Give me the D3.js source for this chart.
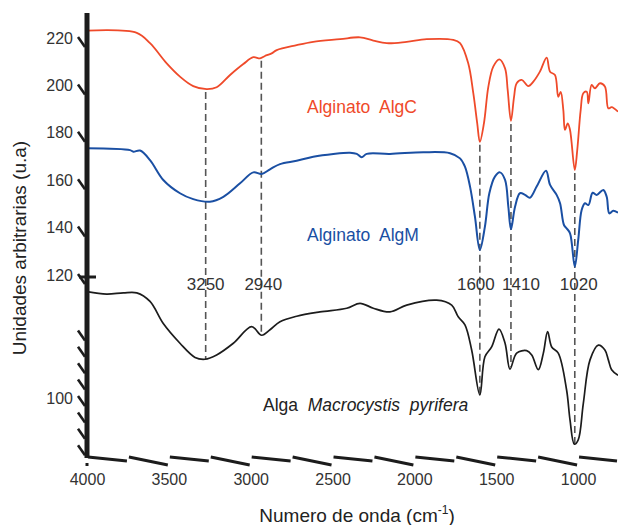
<!DOCTYPE html>
<html>
<head>
<meta charset="utf-8">
<script src="https://cdnjs.cloudflare.com/ajax/libs/d3/7.8.5/d3.min.js"></script>
<style>
  body { margin: 0; background: #fff; }
  svg { display: block; font-family: "Liberation Sans", Arial, sans-serif; }
  .tick text { font-size: 16px; fill: #333; }
</style>
</head>
<body>
<div id="chart"></div>
<script>
// wavenumbers (cm-1) and intensities (u.a)
let algcW = [4000,3696,3615,3513,3432,3351,3269,3208,3126,3045,2984,2943,2913,2872,2841,2719,2618,2454,2332,2251,2169,2047,1925,1762,1721,1671,1640,1616,1600,1575,1548,1518,1481,1446,1430,1410,1391,1375,1344,1304,1273,1233,1192,1171,1141,1121,1106,1090,1080,1063,1049,1020,1005,984,968,947,937,917,897,866,836,815,795,756];
let algcV = [223.1,222.2,217.8,209.3,203.7,199.7,198.4,199.2,204.4,209.0,211.9,211.4,212.4,213.5,214.9,217.0,218.4,219.5,220.3,218.9,217.8,218.4,219.5,219.2,217.8,209.3,196.7,184.0,176.2,184.0,199.5,207.9,211.0,207.2,198.1,185.0,195.2,200.9,202.3,199.7,201.6,205.8,211.7,205.8,204.4,195.2,197.3,189.6,181.2,184.0,181.2,164.3,172.7,189.6,196.7,197.3,192.4,200.2,198.8,200.9,199.5,190.3,190.8,188.9];

let algmW = [4000,3737,3717,3676,3615,3534,3432,3351,3249,3167,3065,2984,2933,2882,2821,2719,2618,2495,2393,2352,2322,2291,2149,1946,1782,1721,1691,1660,1630,1600,1569,1542,1508,1477,1446,1426,1410,1385,1355,1324,1294,1253,1196,1171,1131,1110,1086,1070,1049,1020,999,978,958,937,911,886,846,825,809,785,756];
let algmV = [173.5,172.7,172.0,172.5,168.5,160.1,154.5,152.0,150.9,153.0,158.7,163.3,162.6,164.6,166.8,168.2,169.9,171.1,171.6,171.1,169.7,171.1,171.1,171.8,171.4,169.2,165.7,157.3,144.6,130.6,140.4,154.5,161.5,163.3,160.1,148.8,139.3,148.8,154.5,153.8,152.6,157.3,164.0,158.0,153.8,150.3,141.1,139.7,137.6,123.5,134.8,147.4,150.3,149.5,154.7,153.8,155.9,153.0,146.0,147.1,146.3];

let algaW = [4000,3880,3778,3696,3615,3534,3432,3340,3279,3208,3106,2994,2933,2882,2821,2719,2577,2413,2332,2251,2149,2047,1864,1772,1732,1691,1650,1600,1569,1528,1483,1446,1416,1375,1314,1283,1243,1212,1186,1161,1121,1070,1049,1023,999,968,927,876,836,815,795,756];
let algaV = [117.3,116.9,117.1,117.1,115.7,112.1,108.9,106.6,106.3,107.0,108.9,111.6,110.2,111.1,112.4,113.3,114.0,114.6,115.4,114.6,114.0,115.1,115.9,115.1,113.2,111.9,107.8,100.5,106.7,108.3,111.2,108.9,104.7,107.3,107.7,107.0,104.6,107.3,110.8,108.3,107.3,101.3,96.4,92.5,93.2,99.1,106.2,108.6,107.8,106.2,104.6,103.7];

let peakW = [3275, 2935, 1600, 1410, 1020];
let peakLabels = ["3250", "2940", "1600", "1410", "1020"];

let xTicks = [4000, 3500, 3000, 2500, 2000, 1500, 1000];
let yTopTicks = [220, 200, 180, 160, 140, 120];
let yBotTicks = [100];

let width = 618, height = 525;
let svg = d3.select("#chart").append("svg").attr("width", width).attr("height", height);

let x = d3.scaleLinear().domain([4000, 756]).range([87, 618]);
let yTop = d3.scaleLinear().domain([120, 220]).range([275, 38]);
let yBot = d3.scaleLinear().domain([100, 120]).range([398, 275]);
let baseY = 457;

// series
let series = [
  {w: algcW, v: algcV, y: yTop, color: "#ef4a2a", sw: 1.8},
  {w: algmW, v: algmV, y: yTop, color: "#1a4fa3", sw: 2},
  {w: algaW, v: algaV, y: yBot, color: "#1c1c1c", sw: 1.7}
];

// dashed peak markers, from the AlgC curve down to the alga curve
let redAt = d3.scaleLinear().domain(algcW).range(algcV);
let blackAt = d3.scaleLinear().domain(algaW).range(algaV);
svg.selectAll("line.peak").data(peakW).join("line")
  .attr("class", "peak")
  .attr("x1", d => x(d)).attr("x2", d => x(d))
  .attr("y1", d => yTop(redAt(d)) + 3)
  .attr("y2", d => yBot(blackAt(d)))
  .attr("stroke", "#555").attr("stroke-width", 1.6)
  .attr("stroke-dasharray", "7,4");

series.forEach(function(s){
  let line = d3.line()
    .x((d, i) => x(s.w[i]))
    .y((d, i) => s.y(s.v[i]))
    .curve(d3.curveCatmullRom.alpha(0.5));
  svg.append("path").datum(s.v)
    .attr("d", line)
    .attr("fill", "none")
    .attr("stroke", s.color)
    .attr("stroke-width", s.sw)
    .attr("stroke-linejoin", "round");
});

// labels sit a little off their lines in the original
let nudge = [0, 2, -4, 10, 4];
svg.selectAll("text.peaklab").data(peakW).join("text")
  .attr("class", "peaklab")
  .attr("x", (d, i) => x(d) + nudge[i]).attr("y", 290)
  .attr("text-anchor", "middle")
  .attr("font-size", 17).attr("fill", "#333")
  .text((d, i) => peakLabels[i]);

// series labels
svg.append("text").attr("x", 307).attr("y", 113).attr("font-size", 17.5).attr("fill", "#ef4a2a")
  .attr("xml:space", "preserve").text("Alginato  AlgC");
svg.append("text").attr("x", 307).attr("y", 241).attr("font-size", 17.5).attr("fill", "#1a4fa3")
  .attr("xml:space", "preserve").text("Alginato  AlgM");
let al = svg.append("text").attr("x", 263).attr("y", 411).attr("font-size", 17.5).attr("fill", "#222")
  .attr("xml:space", "preserve");
al.append("tspan").text("Alga  ");
al.append("tspan").attr("font-style", "italic").text("Macrocystis  pyrifera");

// y axis: labels through d3 axes, line and slashes by hand
let yaTop = svg.append("g").attr("transform", "translate(87,0)")
  .call(d3.axisLeft(yTop).tickValues(yTopTicks).tickSize(0).tickPadding(14));
let yaBot = svg.append("g").attr("transform", "translate(87,0)")
  .call(d3.axisLeft(yBot).tickValues(yBotTicks).tickSize(0).tickPadding(14));
yaTop.select(".domain").remove();
yaBot.select(".domain").remove();

svg.append("line").attr("x1", 87).attr("x2", 87).attr("y1", 13).attr("y2", baseY + 1)
  .attr("stroke", "#1c1c1c").attr("stroke-width", 5);

let slashUp = yTopTicks.map(d => yTop(d));
let slashLow = d3.range(-4, 8).map(k => yBot(100) - 1 + k * 16.4).filter(d => d > 285 && d < 448);
svg.selectAll("line.slash").data(slashUp.concat(slashLow)).join("line")
  .attr("class", "slash")
  .attr("x1", 78).attr("y1", d => d - 1)
  .attr("x2", 85).attr("y2", d => d + 9)
  .attr("stroke", "#1c1c1c").attr("stroke-width", 2.6);

svg.append("line").attr("x1", 79).attr("x2", 96).attr("y1", yTop(120) + 2).attr("y2", yTop(120) + 2)
  .attr("stroke", "#1c1c1c").attr("stroke-width", 3);

// x axis: labels through d3 axis, zig-zag baseline segments
let xa = svg.append("g").attr("transform", "translate(0," + baseY + ")")
  .call(d3.axisBottom(x).tickValues(xTicks).tickSize(0).tickPadding(17).tickFormat(d3.format("d")));
xa.select(".domain").remove();

let segs = d3.range(4000, 756, -250);
svg.selectAll("line.seg").data(segs).join("line")
  .attr("class", "seg")
  .attr("x1", d => x(d) + 1).attr("y1", baseY)
  .attr("x2", d => x(Math.max(d - 250, 756)) - 1).attr("y2", (d, i) => baseY + (i % 2 ? 8 : 4))
  .attr("stroke", "#1c1c1c").attr("stroke-width", 3);
svg.append("rect").attr("x", x(4000) - 1.5).attr("y", baseY + 6).attr("width", 3).attr("height", 3).attr("fill", "#1c1c1c");

// axis titles
let xt = svg.append("text").attr("x", 357).attr("y", 522).attr("text-anchor", "middle")
  .attr("font-size", 19).attr("fill", "#222");
xt.append("tspan").text("Numero de onda (cm");
xt.append("tspan").attr("font-size", 12).attr("dy", -8).text("-1");
xt.append("tspan").attr("dy", 8).text(")");

svg.append("text").attr("transform", "translate(26,248) rotate(-90)")
  .attr("text-anchor", "middle").attr("font-size", 19).attr("fill", "#222")
  .text("Unidades arbitrarias (u.a)");
</script>
</body>
</html>
